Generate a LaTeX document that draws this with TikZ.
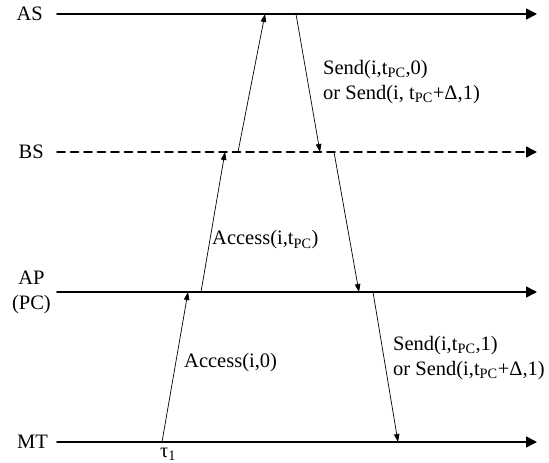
\documentclass[tikz,border=0pt]{standalone}
\usepackage{fontspec}
\setmainfont{Liberation Serif}
\usepackage{tkz-euclide}
\usetikzlibrary{arrows.meta, positioning}

\begin{document}
\begin{tikzpicture}[x=1pt, y=-1pt, font=\fontsize{20.5}{25}\selectfont,
    lane/.style={line width=1.6pt, -{Triangle[length=11pt, width=11pt]}},
    msg/.style={line width=0.7pt, -{Triangle[length=8pt, width=5.5pt]}}]
    \useasboundingbox (0,0) rectangle (549,463);
    % time lines
    \tkzDefPoints{57/14/ASs, 537/14/ASe, 57/152/BSs, 537/152/BSe,
                  57/292/APs, 537/292/APe, 57/442/MTs, 537/442/MTe}
    % message end points
    \tkzDefPoints{162/442/MTa, 188/292/APa, 201/292/APb, 225/152/BSa,
                  238/152/BSb, 265/14/ASa, 296/14/ASb, 320/152/BSc,
                  334/152/BSd, 359/292/APc, 373/292/APd, 398/442/MTb}
    \tkzDrawSegments[lane](ASs,ASe APs,APe MTs,MTe)
    \tkzDrawSegments[lane, dash pattern=on 8pt off 5.5pt](BSs,BSe)
    \tkzDrawSegments[msg](MTa,APa APb,BSa BSb,ASa ASb,BSc BSd,APc APd,MTb)
    \node[left=14pt of ASs, inner sep=0pt] (AS) {AS};
    \node[left=13pt of BSs, inner sep=0pt] (BS) {BS};
    \node[left=6pt of APs, inner sep=0pt, align=center] (AP) {AP\\(PC)};
    \node[left=9pt of MTs, inner sep=0pt] (MT) {MT};
    \node[below=6pt of MTa, xshift=6pt, inner sep=0pt] (tau) {τ\textsubscript{1}};
    % labels of the messages
    \node[anchor=west, inner sep=0pt] (acc0) at (184,363) {Access(i,0)};
    \node[anchor=west, inner sep=0pt] (accPC) at (212,240) {Access(i,t\textsubscript{PC})};
    \node[anchor=west, inner sep=0pt, align=left] (sendAS) at (323,82)
        {Send(i,t\textsubscript{PC},0)\\or Send(i, t\textsubscript{PC}+Δ,1)};
    \node[anchor=west, inner sep=0pt, align=left] (sendAP) at (393,358)
        {Send(i,t\textsubscript{PC},1)\\or Send(i,t\textsubscript{PC}+Δ,1)};
\end{tikzpicture}
\end{document}
